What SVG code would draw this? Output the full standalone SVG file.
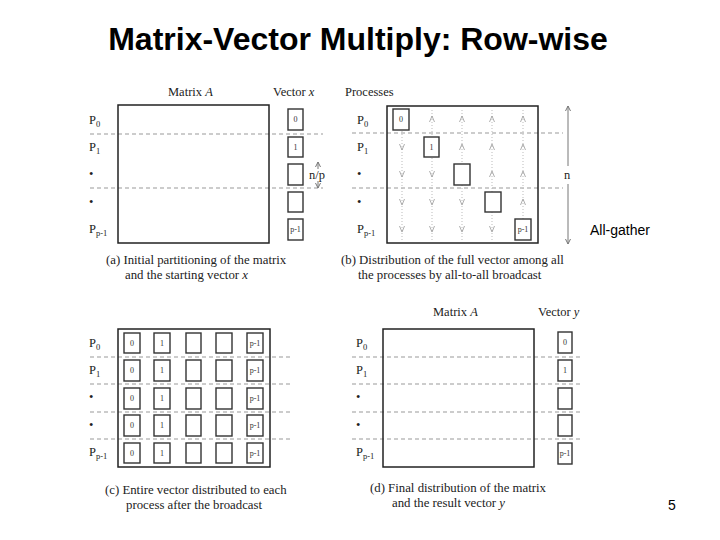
<svg xmlns="http://www.w3.org/2000/svg" width="720" height="540" viewBox="0 0 720 540">
<style>
  .title{font-family:"Liberation Sans",Arial,sans-serif;font-weight:bold;font-size:32px;fill:#000}
  .sans{font-family:"Liberation Sans",Arial,sans-serif;font-size:14px;fill:#000}
  .t{font-family:"Liberation Serif","Times New Roman",serif;font-size:12.5px;fill:#222}
  .cap{font-family:"Liberation Serif","Times New Roman",serif;font-size:12.8px;fill:#222}
  .sub{font-size:8.5px}
  .bl{font-family:"Liberation Serif","Times New Roman",serif;font-size:8px;fill:#333;text-anchor:middle}
  .mat{fill:none;stroke:#222;stroke-width:1.5}
  .box{fill:#fff;stroke:#333;stroke-width:1.4}
  .dash{stroke:#999;stroke-width:1;stroke-dasharray:4 3;fill:none}
  .dot{stroke:#bbb;stroke-width:1;stroke-dasharray:1 2;fill:none}
  .chev{fill:none;stroke:#999;stroke-width:0.8}
  .arr{stroke:#777;stroke-width:1;fill:none}
</style>
<defs>
  <marker id="ah" markerWidth="6" markerHeight="6" refX="5" refY="3" orient="auto" markerUnits="userSpaceOnUse">
    <path d="M0,0.5 L5,3 L0,5.5" fill="none" stroke="#777" stroke-width="1"/>
  </marker>
</defs>
<rect width="720" height="540" fill="#fff"/>

<text class="title" x="358" y="50" text-anchor="middle">Matrix-Vector Multiply: Row-wise</text>

<!-- Panel (a) -->
<g id="panel-a">
  <text class="t" x="168" y="96">Matrix <tspan font-style="italic">A</tspan></text>
  <text class="t" x="273" y="96">Vector <tspan font-style="italic">x</tspan></text>
  <line class="dash" x1="90" y1="134" x2="323" y2="134"/>
  <line class="dash" x1="90" y1="188" x2="323" y2="188"/>
  <rect class="mat" x="118" y="105" width="151" height="138"/>
  <text class="t" x="89" y="124">P<tspan class="sub" dy="3">0</tspan></text>
  <text class="t" x="89" y="151">P<tspan class="sub" dy="3">1</tspan></text>
  <text class="t" x="89" y="178">•</text>
  <text class="t" x="89" y="206">•</text>
  <text class="t" x="89" y="233">P<tspan class="sub" dy="3">p-1</tspan></text>
  <g id="vec-x">
    <rect class="box" x="288" y="109" width="15" height="21"/><text class="bl" x="295.5" y="122">0</text>
    <rect class="box" x="288" y="137" width="15" height="20"/><text class="bl" x="295.5" y="150">1</text>
    <rect class="box" x="288" y="164" width="15" height="21"/>
    <rect class="box" x="288" y="192" width="15" height="20"/>
    <rect class="box" x="288" y="219" width="15" height="21"/><text class="bl" x="295.5" y="232">p-1</text>
  </g>
  <text class="t" x="309" y="179">n/p</text>
  <text class="cap" x="106" y="264">(a)  Initial partitioning of the matrix</text>
  <text class="cap" x="125" y="278.5">and the starting vector <tspan font-style="italic">x</tspan></text>
</g>

<!-- Panel (b) -->
<g id="panel-b">
  <text class="t" x="345" y="96">Processes</text>
  <line class="dash" x1="352" y1="133" x2="563" y2="133"/>
  <line class="dash" x1="352" y1="188" x2="563" y2="188"/>
  <rect class="mat" x="387" y="106" width="151" height="137"/>
  <text class="t" x="357" y="124">P<tspan class="sub" dy="3">0</tspan></text>
  <text class="t" x="357" y="151">P<tspan class="sub" dy="3">1</tspan></text>
  <text class="t" x="357" y="178">•</text>
  <text class="t" x="357" y="206">•</text>
  <text class="t" x="357" y="233">P<tspan class="sub" dy="3">p-1</tspan></text>
  <text class="t" x="564" y="179" font-size="14">n</text>
  <text class="cap" x="341" y="264">(b)  Distribution of the full vector among all</text>
  <text class="cap" x="358" y="278.5">the processes by all-to-all broadcast</text>
</g>

<!-- Connectors -->
<g id="connectors">
  <line class="dot" x1="402" y1="110" x2="402" y2="240"/>
  <line class="dot" x1="432" y1="110" x2="432" y2="240"/>
  <line class="dot" x1="462" y1="110" x2="462" y2="240"/>
  <line class="dot" x1="492" y1="110" x2="492" y2="240"/>
  <line class="dot" x1="523" y1="110" x2="523" y2="240"/>
  <polyline class="chev" points="429.5,122 432,116 434.5,122"/>
  <polyline class="chev" points="459.5,122 462,116 464.5,122"/>
  <polyline class="chev" points="489.5,122 492,116 494.5,122"/>
  <polyline class="chev" points="520.5,122 523,116 525.5,122"/>
  <polyline class="chev" points="459.5,150 462,144 464.5,150"/>
  <polyline class="chev" points="489.5,150 492,144 494.5,150"/>
  <polyline class="chev" points="520.5,150 523,144 525.5,150"/>
  <polyline class="chev" points="489.5,177 492,171 494.5,177"/>
  <polyline class="chev" points="520.5,177 523,171 525.5,177"/>
  <polyline class="chev" points="520.5,205 523,199 525.5,205"/>
  <polyline class="chev" points="399.5,144 402,150 404.5,144"/>
  <polyline class="chev" points="399.5,171 402,177 404.5,171"/>
  <polyline class="chev" points="429.5,171 432,177 434.5,171"/>
  <polyline class="chev" points="399.5,199 402,205 404.5,199"/>
  <polyline class="chev" points="429.5,199 432,205 434.5,199"/>
  <polyline class="chev" points="459.5,199 462,205 464.5,199"/>
  <polyline class="chev" points="399.5,226 402,232 404.5,226"/>
  <polyline class="chev" points="429.5,226 432,232 434.5,226"/>
  <polyline class="chev" points="459.5,226 462,232 464.5,226"/>
  <polyline class="chev" points="489.5,226 492,232 494.5,226"/>
  <line class="arr" x1="568" y1="166" x2="568" y2="106" marker-end="url(#ah)"/>
  <line class="arr" x1="568" y1="184" x2="568" y2="244" marker-end="url(#ah)"/>
  <line class="arr" x1="318" y1="169" x2="318" y2="162" marker-end="url(#ah)"/>
  <line class="arr" x1="318" y1="181" x2="318" y2="188" marker-end="url(#ah)"/>
</g>

<g id="diag-b">
  <rect class="box" x="393" y="109" width="16" height="21"/><text class="bl" x="401" y="122">0</text>
  <rect class="box" x="424" y="137" width="15" height="20"/><text class="bl" x="431.5" y="150">1</text>
  <rect class="box" x="454" y="164" width="16" height="21"/>
  <rect class="box" x="485" y="192" width="16" height="20"/>
  <rect class="box" x="515" y="219" width="16" height="21"/><text class="bl" x="523" y="232">p-1</text>
</g>

<text class="sans" x="590" y="235">All-gather</text>

<!-- Panel (c) -->
<g id="panel-c">
  <line class="dash" x1="90" y1="357" x2="292" y2="357"/>
  <line class="dash" x1="90" y1="384" x2="292" y2="384"/>
  <line class="dash" x1="90" y1="412" x2="292" y2="412"/>
  <line class="dash" x1="90" y1="439" x2="292" y2="439"/>
  <rect class="mat" x="118" y="329" width="152" height="138"/>
  <text class="t" x="89" y="347">P<tspan class="sub" dy="3">0</tspan></text>
  <text class="t" x="89" y="374">P<tspan class="sub" dy="3">1</tspan></text>
  <text class="t" x="89" y="401">•</text>
  <text class="t" x="89" y="429">•</text>
  <text class="t" x="89" y="456">P<tspan class="sub" dy="3">p-1</tspan></text>
  <g id="grid-c">
    <g id="row-c0">
      <rect class="box" x="124" y="333" width="16" height="20"/><text class="bl" x="132" y="346">0</text>
      <rect class="box" x="154" y="333" width="16" height="20"/><text class="bl" x="162" y="346">1</text>
      <rect class="box" x="186" y="333" width="15" height="20"/>
      <rect class="box" x="216" y="333" width="16" height="20"/>
      <rect class="box" x="247" y="333" width="16" height="20"/><text class="bl" x="255" y="346">p-1</text>
    </g>
    <g id="row-c1">
      <rect class="box" x="124" y="360" width="16" height="21"/><text class="bl" x="132" y="373">0</text>
      <rect class="box" x="154" y="360" width="16" height="21"/><text class="bl" x="162" y="373">1</text>
      <rect class="box" x="186" y="360" width="15" height="21"/>
      <rect class="box" x="216" y="360" width="16" height="21"/>
      <rect class="box" x="247" y="360" width="16" height="21"/><text class="bl" x="255" y="373">p-1</text>
    </g>
    <g id="row-c2">
      <rect class="box" x="124" y="388" width="16" height="21"/><text class="bl" x="132" y="401">0</text>
      <rect class="box" x="154" y="388" width="16" height="21"/><text class="bl" x="162" y="401">1</text>
      <rect class="box" x="186" y="388" width="15" height="21"/>
      <rect class="box" x="216" y="388" width="16" height="21"/>
      <rect class="box" x="247" y="388" width="16" height="21"/><text class="bl" x="255" y="401">p-1</text>
    </g>
    <g id="row-c3">
      <rect class="box" x="124" y="415" width="16" height="21"/><text class="bl" x="132" y="428">0</text>
      <rect class="box" x="154" y="415" width="16" height="21"/><text class="bl" x="162" y="428">1</text>
      <rect class="box" x="186" y="415" width="15" height="21"/>
      <rect class="box" x="216" y="415" width="16" height="21"/>
      <rect class="box" x="247" y="415" width="16" height="21"/><text class="bl" x="255" y="428">p-1</text>
    </g>
    <g id="row-c4">
      <rect class="box" x="124" y="443" width="16" height="20"/><text class="bl" x="132" y="456">0</text>
      <rect class="box" x="154" y="443" width="16" height="20"/><text class="bl" x="162" y="456">1</text>
      <rect class="box" x="186" y="443" width="15" height="20"/>
      <rect class="box" x="216" y="443" width="16" height="20"/>
      <rect class="box" x="247" y="443" width="16" height="20"/><text class="bl" x="255" y="456">p-1</text>
    </g>
  </g>
  <text class="cap" x="105" y="494">(c)  Entire vector distributed to each</text>
  <text class="cap" x="126" y="508.5">process after the broadcast</text>
</g>

<!-- Panel (d) -->
<g id="panel-d">
  <text class="t" x="433" y="316">Matrix <tspan font-style="italic">A</tspan></text>
  <text class="t" x="538" y="316">Vector <tspan font-style="italic">y</tspan></text>
  <line class="dash" x1="352" y1="357" x2="582" y2="357"/>
  <line class="dash" x1="352" y1="384" x2="582" y2="384"/>
  <line class="dash" x1="352" y1="412" x2="582" y2="412"/>
  <line class="dash" x1="352" y1="439" x2="582" y2="439"/>
  <rect class="mat" x="383" y="329" width="151" height="138"/>
  <text class="t" x="356" y="347">P<tspan class="sub" dy="3">0</tspan></text>
  <text class="t" x="356" y="374">P<tspan class="sub" dy="3">1</tspan></text>
  <text class="t" x="356" y="401">•</text>
  <text class="t" x="356" y="429">•</text>
  <text class="t" x="356" y="456">P<tspan class="sub" dy="3">p-1</tspan></text>
  <g id="vec-y">
    <rect class="box" x="558" y="332" width="14" height="21"/><text class="bl" x="565" y="345">0</text>
    <rect class="box" x="558" y="360" width="14" height="21"/><text class="bl" x="565" y="373">1</text>
    <rect class="box" x="558" y="388" width="14" height="21"/>
    <rect class="box" x="558" y="415" width="14" height="21"/>
    <rect class="box" x="558" y="443" width="14" height="21"/><text class="bl" x="565" y="456">p-1</text>
  </g>
  <text class="cap" x="370" y="492">(d)  Final distribution of the matrix</text>
  <text class="cap" x="392" y="506.5">and the result vector <tspan font-style="italic">y</tspan></text>
</g>

<text class="sans" x="668" y="510">5</text>
</svg>
